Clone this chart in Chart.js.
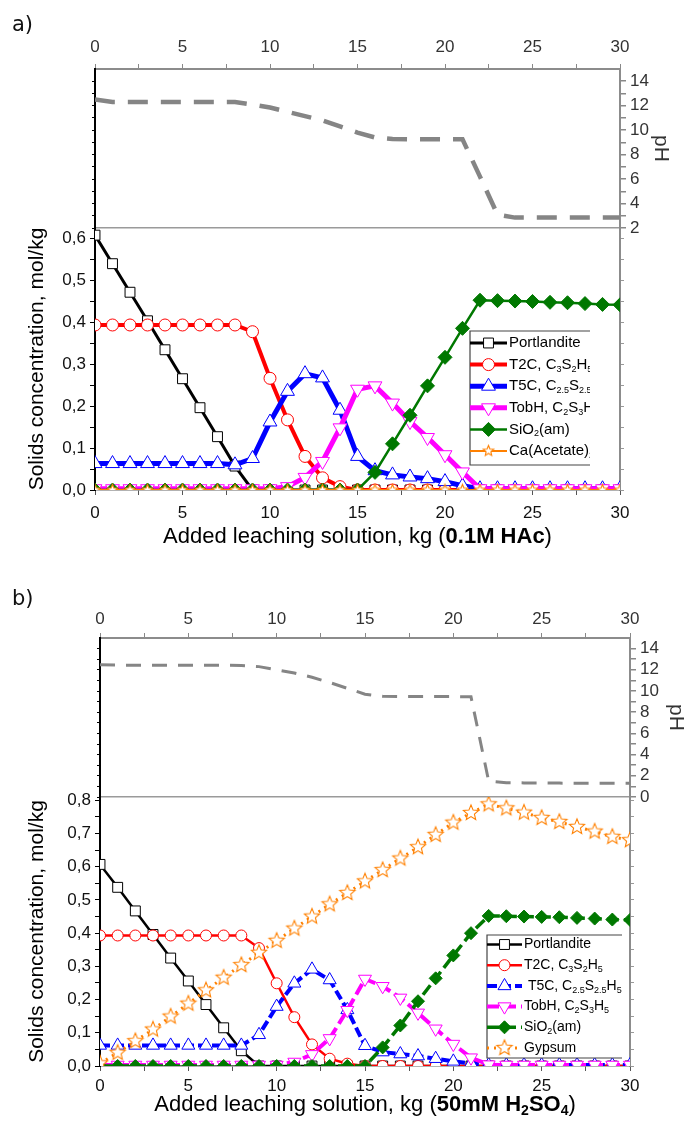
<!DOCTYPE html>
<html>
<head>
<meta charset="utf-8">
<script src="https://cdn.jsdelivr.net/npm/chart.js@4.4.1/dist/chart.umd.min.js"></script>
<style>
  html, body { margin: 0; padding: 0; background: #fff; }
  body { width: 691px; height: 1122px; position: relative; overflow: hidden; }
  .panel { position: absolute; left: 0; width: 691px; height: 561px; }
  .tag { position: absolute; left: 12px; font: 21px "DejaVu Sans", sans-serif; color: #111; }
</style>
</head>
<body>
<div class="panel" style="top:0"><canvas id="chartA" width="691" height="561"></canvas></div>
<div class="panel" style="top:561px"><canvas id="chartB" width="691" height="561"></canvas></div>
<div class="tag" style="top:12px">a)</div>
<div class="tag" style="top:586px">b)</div>
<script>
// added leaching solution, kg
const kg = [0, 1, 2, 3, 4, 5, 6, 7, 8, 9, 10, 11, 12, 13, 14, 15, 16, 17, 18, 19, 20, 21, 22, 23, 24, 25, 26, 27, 28, 29, 30];

// ---- panel a) 0.1M HAc ----
const namesA = ['Portlandite', 'T2C, C_{3}S_{2}H_{5}', 'T5C, C_{2.5}S_{2.5}H_{5}', 'TobH, C_{2}S_{3}H_{5}', 'SiO_{2}(am)', 'Ca(Acetate)_{2}'];
const portlanditeA = [0.607, 0.539, 0.471, 0.403, 0.334, 0.265, 0.196, 0.127, 0.057, 0, 0, 0, 0, 0, 0, 0, 0, 0, 0, 0, 0, 0, 0, 0, 0, 0, 0, 0, 0, 0, 0];
const t2cA = [0.393, 0.393, 0.393, 0.393, 0.393, 0.393, 0.393, 0.393, 0.393, 0.377, 0.266, 0.167, 0.08, 0.029, 0.008, 0, 0, 0, 0, 0, 0, 0, 0, 0, 0, 0, 0, 0, 0, 0, 0];
const t5cA = [0.063, 0.063, 0.063, 0.063, 0.063, 0.063, 0.063, 0.063, 0.06, 0.075, 0.162, 0.235, 0.277, 0.267, 0.19, 0.08, 0.046, 0.036, 0.031, 0.027, 0.02, 0.01, 0.003, 0.003, 0.003, 0.003, 0.003, 0.003, 0.003, 0.003, 0.003];
const tobhA = [0.003, 0.003, 0.003, 0.003, 0.003, 0.003, 0.003, 0.003, 0.003, 0.003, 0.003, 0.008, 0.03, 0.068, 0.148, 0.24, 0.248, 0.207, 0.163, 0.125, 0.084, 0.043, 0.003, 0.003, 0.003, 0.003, 0.003, 0.003, 0.003, 0.003, 0.003];
const sio2A = [0, 0, 0, 0, 0, 0, 0, 0, 0, 0, 0, 0, 0, 0, 0, 0, 0.042, 0.11, 0.178, 0.248, 0.316, 0.385, 0.452, 0.451, 0.45, 0.449, 0.447, 0.446, 0.444, 0.442, 0.441];
const caAcetateA = [0, 0, 0, 0, 0, 0, 0, 0, 0, 0, 0, 0, 0, 0, 0, 0, 0, 0, 0, 0, 0, 0, 0, 0, 0, 0, 0, 0, 0, 0, 0];
const phA = [12.5, 12.3, 12.3, 12.3, 12.3, 12.3, 12.3, 12.3, 12.3, 12.1, 11.85, 11.5, 11.15, 10.8, 10.3, 9.8, 9.4, 9.27, 9.25, 9.25, 9.25, 9.25, 6.2, 3.1, 2.85, 2.85, 2.85, 2.85, 2.85, 2.85, 2.85];
const solidsTicksA = [0, 0.1, 0.2, 0.3, 0.4, 0.5, 0.6];
const phTicksA = [2, 4, 6, 8, 10, 12, 14];
const xTitleA = 'Added leaching solution, kg (*0.1M HAc*)';

// ---- panel b) 50mM H2SO4 ----
const namesB = ['Portlandite', 'T2C, C_{3}S_{2}H_{5}', ' T5C, C_{2.5}S_{2.5}H_{5}', 'TobH, C_{2}S_{3}H_{5}', 'SiO_{2}(am)', 'Gypsum'];
const portlanditeB = [0.607, 0.538, 0.467, 0.396, 0.325, 0.256, 0.185, 0.115, 0.046, 0, 0, 0, 0, 0, 0, 0, 0, 0, 0, 0, 0, 0, 0, 0, 0, 0, 0, 0, 0, 0, 0];
const t2cB = [0.393, 0.393, 0.393, 0.393, 0.393, 0.393, 0.393, 0.393, 0.393, 0.355, 0.249, 0.147, 0.065, 0.022, 0.007, 0, 0, 0, 0, 0, 0, 0, 0, 0, 0, 0, 0, 0, 0, 0, 0];
const t5cB = [0.062, 0.062, 0.062, 0.062, 0.062, 0.062, 0.062, 0.062, 0.062, 0.094, 0.179, 0.249, 0.291, 0.259, 0.169, 0.061, 0.042, 0.036, 0.03, 0.022, 0.014, 0.008, 0.003, 0.003, 0.003, 0.003, 0.003, 0.003, 0.003, 0.003, 0.003];
const tobhB = [0.003, 0.003, 0.003, 0.003, 0.003, 0.003, 0.003, 0.003, 0.003, 0.003, 0.003, 0.012, 0.035, 0.083, 0.168, 0.262, 0.24, 0.205, 0.16, 0.112, 0.066, 0.025, 0.004, 0.003, 0.003, 0.003, 0.003, 0.003, 0.003, 0.003, 0.003];
const sio2B = [0, 0, 0, 0, 0, 0, 0, 0, 0, 0, 0, 0, 0, 0, 0, 0, 0.056, 0.122, 0.195, 0.264, 0.333, 0.4, 0.452, 0.451, 0.45, 0.449, 0.448, 0.446, 0.444, 0.441, 0.44];
const gypsumB = [0.008, 0.04, 0.075, 0.11, 0.149, 0.188, 0.228, 0.266, 0.304, 0.341, 0.377, 0.414, 0.45, 0.487, 0.521, 0.556, 0.59, 0.625, 0.659, 0.696, 0.733, 0.762, 0.788, 0.776, 0.763, 0.747, 0.735, 0.72, 0.706, 0.69, 0.68];
const phB = [12.47, 12.44, 12.44, 12.44, 12.44, 12.44, 12.44, 12.44, 12.4, 12.3, 12.0, 11.7, 11.3, 10.8, 10.25, 9.7, 9.5, 9.47, 9.47, 9.47, 9.47, 9.45, 1.5, 1.35, 1.33, 1.32, 1.31, 1.3, 1.3, 1.3, 1.3];
const solidsTicksB = [0, 0.1, 0.2, 0.3, 0.4, 0.5, 0.6, 0.7, 0.8];
const phTicksB = [0, 2, 4, 6, 8, 10, 12, 14];
const xTitleB = 'Added leaching solution, kg (*50mM H_{2}SO_{4}*)';

const xTicks = [0, 5, 10, 15, 20, 25, 30];
const yTitle = 'Solids concentration, mol/kg';
const phTitle = 'pH';

const FONT = '"Liberation Sans", Arial, sans-serif';
Chart.defaults.font.family = FONT;

// star marker (Chart.js has no 5-point star)
function makeStar(r, color) {
  const size = Math.ceil(2 * r + 4);
  const c = document.createElement('canvas');
  c.width = c.height = size;
  const g = c.getContext('2d');
  g.beginPath();
  for (let k = 0; k < 10; k++) {
    const rr = k % 2 ? r * 0.45 : r;
    const a = -Math.PI / 2 + k * Math.PI / 5;
    g.lineTo(size / 2 + rr * Math.cos(a), size / 2 + rr * Math.sin(a));
  }
  g.closePath();
  g.fillStyle = '#fff';
  g.fill();
  g.lineWidth = 1.1;
  g.strokeStyle = color;
  g.stroke();
  return c;
}

const stylesA = [
  {color: '#000000', width: 3, marker: 'rect', r: 7, fill: '#fff'},
  {color: '#ff0000', width: 4, marker: 'circle', r: 6, fill: '#fff'},
  {color: '#0000ff', width: 5, marker: 'triangle', r: 8, fill: '#fff'},
  {color: '#ff00ff', width: 5, marker: 'triangle', rot: 180, r: 8, fill: '#fff'},
  {color: '#007800', width: 2.5, marker: 'rectRot', r: 7, fill: '#007800'},
  {color: '#ff8000', width: 2, marker: makeStar(5.5, '#ff8000'), r: 6, fill: '#fff'}
];
const stylesB = [
  {color: '#000000', width: 2.5, marker: 'rect', r: 7, fill: '#fff'},
  {color: '#ff0000', width: 2.5, marker: 'circle', r: 5.5, fill: '#fff'},
  {color: '#0000ff', width: 4, dash: [10, 4], marker: 'triangle', r: 7.5, fill: '#fff'},
  {color: '#ff00ff', width: 4, dash: [12, 5], marker: 'triangle', rot: 180, r: 7.5, fill: '#fff'},
  {color: '#007800', width: 3.5, dash: [12, 5], marker: 'rectRot', r: 6.5, fill: '#007800'},
  {color: '#ff8000', width: 3, dash: [2, 5], marker: makeStar(8, '#ff8000'), r: 8, fill: '#fff'}
];

// tiny rich text: *bold*, _{sub}
function parseRich(str) {
  const parts = [];
  let bold = false, buf = '', i = 0;
  const flush = sub => { if (buf) { parts.push({t: buf, bold: bold, sub: sub}); buf = ''; } };
  while (i < str.length) {
    const ch = str[i];
    if (ch === '*') { flush(false); bold = !bold; i++; }
    else if (ch === '_' && str[i + 1] === '{') {
      flush(false);
      const j = str.indexOf('}', i);
      buf = str.slice(i + 2, j);
      flush(true);
      i = j + 1;
    } else { buf += ch; i++; }
  }
  flush(false);
  return parts;
}
function drawRich(ctx, str, x, y, size, align, color) {
  const parts = parseRich(str);
  const fontOf = p => (p.bold ? 'bold ' : '') + (p.sub ? Math.round(size * 0.62) : size) + 'px ' + FONT;
  let total = 0;
  parts.forEach(p => { ctx.font = fontOf(p); p.w = ctx.measureText(p.t).width; total += p.w; });
  let cx = align === 'center' ? x - total / 2 : x;
  ctx.textBaseline = 'middle';
  ctx.textAlign = 'left';
  ctx.fillStyle = color;
  parts.forEach(p => {
    ctx.font = fontOf(p);
    ctx.fillText(p.t, cx, p.sub ? y + size * 0.3 : y);
    cx += p.w;
  });
}
const plain = s => s.replace(/\*|_\{|\}/g, '');

const richTitle = {
  id: 'richTitle',
  afterDraw(chart, args, o) {
    const a = chart.chartArea;
    chart.ctx.save();
    drawRich(chart.ctx, o.text, (a.left + a.right) / 2, a.bottom + o.dy, o.size, 'center', '#000');
    chart.ctx.restore();
  }
};

const boxLegend = {
  id: 'boxLegend',
  afterDatasetsDraw(chart, args, o) {
    const ctx = chart.ctx, b = o.box;
    ctx.save();
    ctx.fillStyle = '#fff';
    ctx.fillRect(b.x, b.y, b.w, b.h);
    ctx.strokeStyle = '#444';
    ctx.lineWidth = 1.2;
    ctx.beginPath();
    ctx.moveTo(b.x + b.w, b.y); ctx.lineTo(b.x, b.y); ctx.lineTo(b.x, b.y + b.h); ctx.lineTo(b.x + b.w, b.y + b.h);
    ctx.stroke();
    chart.data.datasets.forEach((d, i) => {
      if (!d.richLabel) return;
      const y = o.firstY + i * o.rowH;
      ctx.save();
      ctx.strokeStyle = d.borderColor;
      ctx.lineWidth = d.borderWidth;
      ctx.setLineDash(d.borderDash || []);
      ctx.beginPath(); ctx.moveTo(o.lineX0, y); ctx.lineTo(o.lineX1, y); ctx.stroke();
      ctx.setLineDash([]);
      ctx.fillStyle = d.pointBackgroundColor;
      ctx.strokeStyle = d.pointBorderColor;
      ctx.lineWidth = d.pointBorderWidth;
      Chart.helpers.drawPoint(ctx, {pointStyle: d.pointStyle, radius: d.pointRadius, rotation: d.pointRotation || 0, borderWidth: d.pointBorderWidth}, (o.lineX0 + o.lineX1) / 2, y);
      ctx.restore();
      ctx.save();
      ctx.beginPath(); ctx.rect(b.x, b.y, b.w, b.h); ctx.clip();
      drawRich(ctx, d.richLabel, o.textX, y, o.size, 'left', '#000');
      ctx.restore();
    });
    ctx.restore();
  }
};

const near = (list, v) => list.some(m => Math.abs(m - v) < 1e-9);
const withMinors = list => list.concat(list.slice(1).map((m, i) => (m + list[i]) / 2)).sort((a, b) => a - b);

function buildPanel(P) {
  const datasets = P.values.map((vals, i) => {
    const s = P.styles[i];
    return {
      label: plain(P.names[i]), richLabel: P.names[i],
      data: kg.map((x, k) => ({x: x, y: vals[k]})),
      xAxisID: 'x', yAxisID: 'ySol',
      borderColor: s.color, backgroundColor: s.color, borderWidth: s.width, borderDash: s.dash || [],
      pointStyle: s.marker, pointRadius: s.r, pointRotation: s.rot || 0,
      pointBackgroundColor: s.fill, pointBorderColor: s.color, pointBorderWidth: 1,
      tension: 0, order: P.values.length - i + 1
    };
  });
  datasets.push({
    label: 'pH', data: kg.map((x, k) => ({x: x, y: P.ph[k]})),
    xAxisID: 'x', yAxisID: 'yPH', borderColor: '#858585', borderWidth: P.phLine.width,
    borderDash: P.phLine.dash, pointRadius: 0, tension: 0, order: 0
  });

  const xAll = withMinors(xTicks);
  const solAll = withMinors(P.solMajor);
  const phAll = withMinors(P.phMajor);
  const tickFont = {size: 17, family: FONT};

  return new Chart(document.getElementById(P.id), {
    type: 'line',
    data: {datasets: datasets},
    plugins: [boxLegend, richTitle],
    options: {
      responsive: false, animation: false, devicePixelRatio: 1,
      layout: {padding: 0, autoPadding: false},
      plugins: {
        legend: {display: false}, tooltip: {enabled: false},
        boxLegend: P.legend,
        richTitle: {text: P.xTitle, dy: P.xTitleDy, size: 22}
      },
      scales: {
        x: {
          type: 'linear', position: 'bottom', min: 0, max: 30,
          afterFit: s => { s.height = P.box.bottom; },
          afterBuildTicks: s => { s.ticks = xAll.map(v => ({value: v})); },
          ticks: {callback: v => near(xTicks, v) ? String(v) : '', font: tickFont, color: '#111', padding: P.xTickPad, maxRotation: 0, autoSkip: false},
          grid: {drawOnChartArea: false, tickLength: 5, tickColor: '#555'},
          border: {color: '#666', width: 1.5}
        },
        x2: {
          type: 'linear', position: 'top', min: 0, max: 30,
          afterFit: s => { s.height = P.box.top; },
          afterBuildTicks: s => { s.ticks = xAll.map(v => ({value: v})); },
          ticks: {callback: v => near(xTicks, v) ? String(v) : '', font: tickFont, color: '#333', padding: P.topTickPad, maxRotation: 0, autoSkip: false},
          grid: {drawOnChartArea: false, tickLength: 5, tickColor: '#888'},
          border: {color: '#8c8c8c', width: 2}
        },
        yTopL: {
          type: 'linear', position: 'left', stack: 'L', stackWeight: P.wTop, weight: 2,
          min: P.phMin, max: P.phMax,
          afterFit: s => { s.width = P.box.left; },
          afterBuildTicks: s => { s.ticks = phAll.map(v => ({value: v})); },
          ticks: {callback: () => '', autoSkip: false},
          grid: {drawOnChartArea: false, tickLength: 3, tickColor: '#000'},
          border: {color: '#000', width: 2}
        },
        ySol: {
          type: 'linear', position: 'left', stack: 'L', stackWeight: P.wBot, weight: 1,
          min: 0, max: P.solMax,
          afterFit: s => { s.width = P.box.left; },
          afterBuildTicks: s => { s.ticks = solAll.map(v => ({value: v})); },
          ticks: {callback: v => near(P.solMajor, v) ? v.toFixed(1).replace('.', ',') : '', font: tickFont, color: '#111', padding: 4, autoSkip: false},
          grid: {drawOnChartArea: false, tickLength: 5, tickColor: '#000'},
          border: {color: '#000', width: 2},
          title: {display: true, text: yTitle, font: {size: 21, family: FONT}, color: '#000', padding: {top: P.yTitlePad}}
        },
        yPH: {
          type: 'linear', position: 'right', stack: 'R', stackWeight: P.wTop, weight: 1,
          min: P.phMin, max: P.phMax,
          afterFit: s => { s.width = P.box.right; },
          afterBuildTicks: s => { s.ticks = phAll.map(v => ({value: v})); },
          ticks: {callback: v => near(P.phMajor, v) ? String(v) : '', font: tickFont, color: '#333', padding: 4, autoSkip: false},
          grid: {
            drawOnChartArea: true, tickLength: 6, tickColor: '#888',
            color: c => (c.tick && Math.abs(c.tick.value - P.phMin) < 1e-9) ? '#9a9a9a' : 'rgba(0,0,0,0)',
            lineWidth: 1.5
          },
          border: {color: '#8c8c8c', width: 2},
          title: {display: true, text: phTitle, font: {size: 21, family: FONT}, color: '#333', padding: {top: P.phTitlePad}}
        },
        yBotR: {
          type: 'linear', position: 'right', stack: 'R', stackWeight: P.wBot, weight: 2,
          min: 0, max: P.solMax,
          afterFit: s => { s.width = P.box.right; },
          afterBuildTicks: s => { s.ticks = solAll.map(v => ({value: v})); },
          ticks: {callback: () => '', autoSkip: false},
          grid: {drawOnChartArea: false, tickLength: 4, tickColor: '#999'},
          border: {color: '#8c8c8c', width: 2}
        }
      }
    }
  });
}

buildPanel({
  id: 'chartA', names: namesA, styles: stylesA, ph: phA,
  values: [portlanditeA, t2cA, t5cA, tobhA, sio2A, caAcetateA],
  phMin: 2, phMax: 15, solMax: 0.624, solMajor: solidsTicksA, phMajor: phTicksA,
  box: {left: 95, right: 71, top: 69, bottom: 71}, wTop: 159, wBot: 262,
  phLine: {width: 4.5, dash: [20, 13]},
  xTitle: xTitleA, xTitleDy: 47, xTickPad: 8, topTickPad: 6, yTitlePad: 25, phTitlePad: 18,
  legend: {box: {x: 470, y: 331, w: 120, h: 134}, firstY: 343, rowH: 21.6, lineX0: 470, lineX1: 507, textX: 509, size: 15}
});

buildPanel({
  id: 'chartB', names: namesB, styles: stylesB, ph: phB,
  values: [portlanditeB, t2cB, t5cB, tobhB, sio2B, gypsumB],
  phMin: 0, phMax: 15, solMax: 0.81, solMajor: solidsTicksB, phMajor: phTicksB,
  box: {left: 100, right: 61, top: 77, bottom: 56}, wTop: 159, wBot: 269,
  phLine: {width: 3, dash: [15, 11]},
  xTitle: xTitleB, xTitleDy: 39, xTickPad: 5, topTickPad: 3, yTitlePad: 25, phTitlePad: 3,
  legend: {box: {x: 487, y: 374, w: 135, h: 123}, firstY: 383.5, rowH: 20.7, lineX0: 487, lineX1: 522, textX: 524, size: 14}
});
</script>
</body>
</html>
